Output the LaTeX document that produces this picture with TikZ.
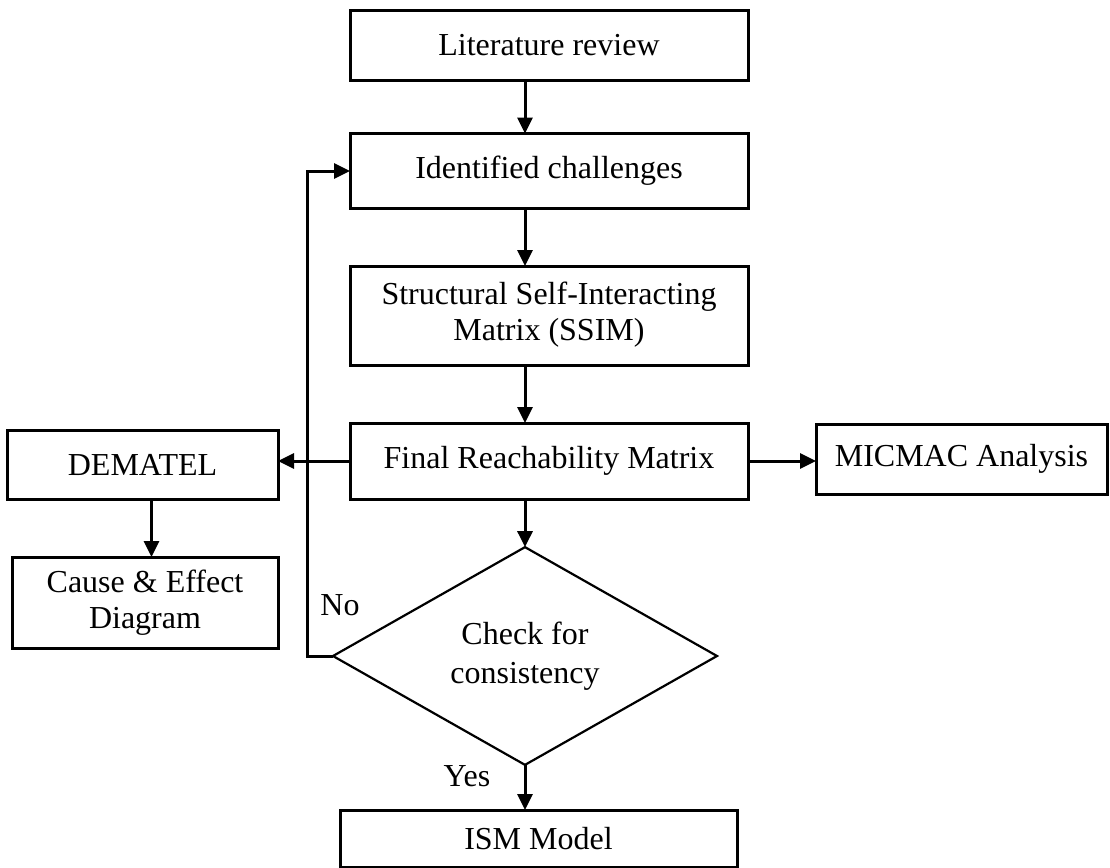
\documentclass[tikz,border=0pt]{standalone}
\usepackage{fontspec}
\setmainfont{Liberation Serif}
\usetikzlibrary{shapes.geometric,arrows.meta}
\begin{document}
\begin{tikzpicture}[x=0.5pt,y=-0.5pt,
  every node/.style={font=\fontsize{16pt}{18pt}\selectfont},
  stepbox/.style={draw,line width=1.5pt,inner sep=0pt,outer sep=0pt,align=center},
  arr/.style={line width=1.5pt,-{Triangle[length=8pt,width=7.5pt]}},
  lbl/.style={inner sep=0pt}]
\useasboundingbox (0,0) rectangle (1110,868);
\node[stepbox,minimum width=199pt,minimum height=35pt] (lit) at (549,45) {Literature review};
\node[stepbox,minimum width=199pt,minimum height=37.5pt] (iden) at (549,171) {Identified challenges};
\node[stepbox,minimum width=199pt,minimum height=49.5pt] (ssim) at (549,315.5) {\raisebox{-2pt}{\begin{tabular}{@{}c@{}}Structural Self-Interacting\\Matrix (SSIM)\end{tabular}}};
\node[stepbox,minimum width=199pt,minimum height=38pt] (final) at (549,461) {Final Reachability Matrix};
\node[stepbox,minimum width=135.5pt,minimum height=34.5pt] (dem) at (142.5,464.5) {DEMATEL};
\node[stepbox,minimum width=133pt,minimum height=45.5pt] (cause) at (145,602.5) {Cause \& Effect\\Diagram};
\node[stepbox,minimum width=145.5pt,minimum height=35pt] (mic) at (961.5,459) {MICMAC Analysis};
\node[draw,diamond,line width=1.1pt,inner sep=0pt,outer sep=0pt,minimum width=192pt,minimum height=97.5pt,align=center,font=\fontsize{16pt}{19.5pt}\selectfont] (chk) at (525,656) {Check for\\consistency};
\node[stepbox,minimum width=198.5pt,minimum height=28.5pt] (ism) at (538.5,838.5) {ISM Model};
\node[lbl] (no) at (340,605) {No};
\node[lbl] (yes) at (467,776) {Yes};
\coordinate (fb) at (307,656);
\draw[arr] (lit.south -| chk.north) -- (iden.north -| chk.north);
\draw[arr] (iden.south -| chk.north) -- (ssim.north -| chk.north);
\draw[arr] (ssim.south -| chk.north) -- (final.north -| chk.north);
\draw[arr] (final.south -| chk.north) -- (chk.north);
\draw[arr] (chk.south) -- (chk.south |- ism.north);
\draw[arr] (final.west) -- (final.west -| dem.east);
\draw[arr] (final.east) -- (final.east -| mic.west);
\draw[arr] ([xshift=4.5pt]dem.south) -- ([xshift=4.5pt]dem.south |- cause.north);
\draw[arr] (chk.west) -- (fb) |- (iden.west);
\end{tikzpicture}
\end{document}
